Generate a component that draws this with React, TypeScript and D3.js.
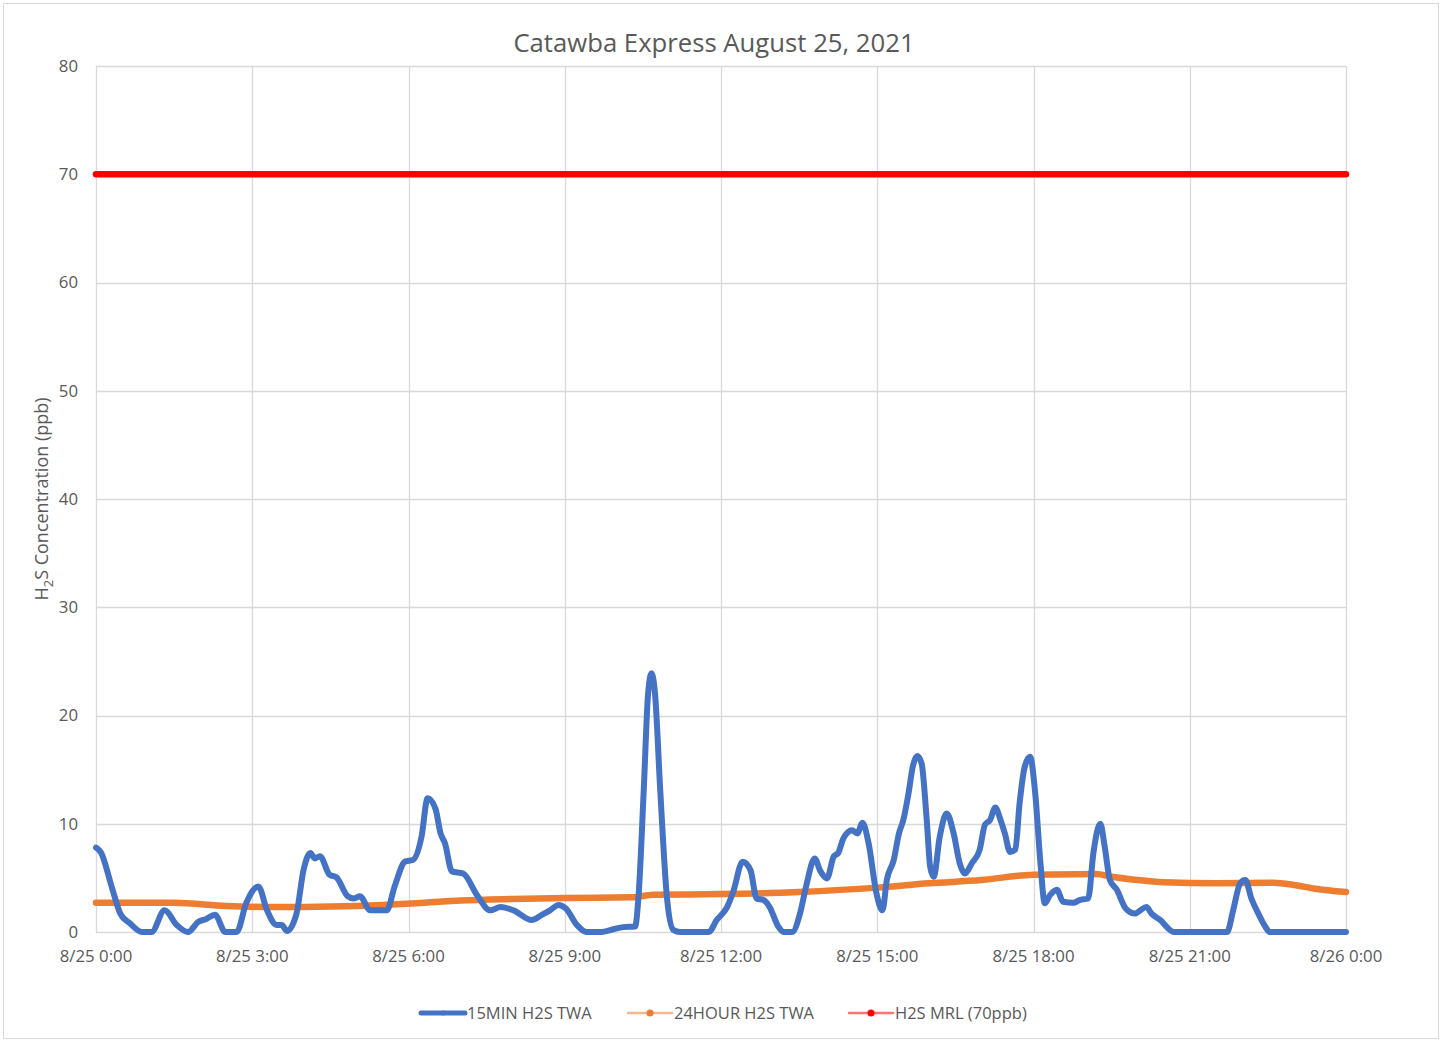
import { useEffect, useRef } from 'react';
import * as d3 from 'd3';

// 15-minute TWA (blue) - minutes after midnight, ppb
const twa15Minutes = [
  0, 6, 18, 28, 39, 53, 64, 79, 93, 106, 118, 127, 137, 149, 162, 173, 187, 197, 208, 214,
  220, 231, 239, 247, 252, 258, 269, 277, 290, 297, 304, 316, 335, 344, 356, 365, 375, 382,
  391, 397, 402, 410, 423, 439, 454, 466, 481, 502, 514, 523, 533, 541, 554, 565, 581, 596,
  607, 621, 625, 631, 636, 640, 644, 650, 658, 665, 673, 706, 715, 727, 734, 745, 754, 761,
  769, 776, 786, 792, 802, 811, 818, 828, 834, 842, 850, 855, 861, 871, 877, 883, 890, 899,
  906, 911, 919, 925, 930, 936, 941, 946, 951, 957, 961, 965, 972, 980, 988, 995, 1001, 1009,
  1018, 1024, 1030, 1036, 1042, 1047, 1053, 1059, 1064, 1070, 1076, 1082, 1088, 1093, 1099,
  1107, 1114, 1126, 1133, 1143, 1149, 1157, 1162, 1168, 1176, 1186, 1197, 1203, 1210, 1216,
  1226, 1237, 1241, 1303, 1310, 1318, 1324, 1331, 1339, 1347, 1352, 1440,
];
const twa15Values = [
  7.8, 7.3, 4.2, 1.7, 0.8, 0, 0, 2.0, 0.65, 0, 0.95, 1.2, 1.6, 0, 0, 2.65, 4.2, 2.0, 0.65, 0.65,
  0.1, 1.7, 5.7, 7.3, 6.8, 7.0, 5.3, 5.05, 3.3, 3.1, 3.3, 2.0, 2.0, 4.2, 6.5, 6.65, 8.8, 12.35,
  11.4, 9.1, 8.2, 5.6, 5.4, 3.4, 2.0, 2.3, 2.0, 1.1, 1.6, 2.0, 2.5, 2.2, 0.65, 0, 0, 0.25,
  0.45, 0.5, 3.3, 13.1, 22.0, 23.9, 22.0, 13.1, 2.95, 0.2, 0, 0, 1.1, 2.3, 3.7, 6.5, 5.7, 3.1,
  2.95, 2.3, 0.5, 0, 0, 1.7, 4.2, 6.8, 5.7, 4.95, 7.0, 7.3, 8.65, 9.4, 9.1, 10.1, 8.2, 3.6,
  2.0, 4.8, 6.65, 9.1, 10.35, 12.8, 15.3, 16.25, 15.6, 10.35, 6.0, 5.1, 8.8, 10.95, 9.1, 6.35, 5.4, 6.35,
  7.6, 9.9, 10.35, 11.5, 10.35, 9.1, 7.4, 7.6, 11.9, 15.3, 16.2, 12.8, 6.35, 2.65, 3.4,
  3.9, 2.8, 2.7, 2.95, 3.1, 7.3, 10.0, 7.9, 4.8, 3.9, 2.2, 1.7, 2.0, 2.3, 1.7,
  1.1, 0.2, 0, 0, 2.0, 4.5, 4.8, 3.1, 1.7, 0.5, 0, 0,
];

// 24-hour TWA (orange)
const twa24Minutes = [
  0, 90, 150, 210, 270, 330, 378, 420, 480, 540, 618, 642, 720, 810, 900, 960, 1020, 1080,
  1152, 1170, 1200, 1230, 1290, 1356, 1380, 1404, 1440,
];
const twa24Values = [
  2.7, 2.7, 2.4, 2.3, 2.35, 2.5, 2.7, 2.9, 3.05, 3.15, 3.2, 3.45, 3.5, 3.7, 4.1, 4.5, 4.8, 5.3,
  5.35, 5.1, 4.8, 4.6, 4.5, 4.55, 4.35, 4.0, 3.7,
];

// MRL (red)
const mrlMinutes = [0, 1440];
const mrlValues = [70, 70];

const yTicks = [0, 10, 20, 30, 40, 50, 60, 70, 80];
const xTickMinutes = [0, 180, 360, 540, 720, 900, 1080, 1260, 1440];

const seriesNames = ['15MIN H2S TWA', '24HOUR H2S TWA', 'H2S MRL (70ppb)'];
const seriesColors = ['#4472c4', '#ed7d31', '#ff0000'];

const FONT = "'Open Sans', 'Noto Sans', sans-serif";

export default function App() {
  const svgRef = useRef<SVGSVGElement>(null);

  useEffect(() => {
    document.body.style.margin = '0';
    const width = 1442;
    const height = 1042;
    const margin = { top: 66, right: 96, bottom: 110, left: 96 };
    const innerWidth = width - margin.left - margin.right;
    const innerHeight = height - margin.top - margin.bottom;

    const svg = d3.select(svgRef.current).attr('width', width).attr('height', height);
    svg.selectAll('*').remove();

    svg.append('rect')
      .attr('x', 3.5).attr('y', 3.5)
      .attr('width', width - 7).attr('height', height - 7)
      .attr('fill', '#fff').attr('stroke', '#d9d9d9');

    const start = new Date(2021, 7, 25, 0, 0);
    const toDate = (m: number) => new Date(start.getTime() + m * 60000);

    const x = d3.scaleTime()
      .domain([toDate(0), toDate(1440)])
      .range([0, innerWidth]);
    const y = d3.scaleLinear().domain([0, 80]).range([innerHeight, 0]);

    const g = svg.append('g').attr('transform', `translate(${margin.left},${margin.top})`);

    // Gridlines
    g.append('g')
      .selectAll('line')
      .data(yTicks)
      .enter()
      .append('line')
      .attr('x1', 0).attr('x2', innerWidth)
      .attr('y1', (d) => Math.round(y(d)) + 0.5).attr('y2', (d) => Math.round(y(d)) + 0.5)
      .attr('stroke', '#d9d9d9').attr('stroke-width', 1.3);

    g.append('g')
      .selectAll('line')
      .data(xTickMinutes)
      .enter()
      .append('line')
      .attr('x1', (d) => Math.round(x(toDate(d))) + 0.5).attr('x2', (d) => Math.round(x(toDate(d))) + 0.5)
      .attr('y1', 0).attr('y2', innerHeight)
      .attr('stroke', '#d9d9d9').attr('stroke-width', 1.3);

    // Y tick labels
    g.append('g')
      .selectAll('text')
      .data(yTicks)
      .enter()
      .append('text')
      .attr('x', -18)
      .attr('y', (d) => y(d))
      .attr('dy', '0.35em')
      .attr('text-anchor', 'end')
      .style('font-family', FONT)
      .style('font-size', '16.8px')
      .style('fill', '#595959')
      .text((d) => d);

    // X tick labels
    const fmt = (m: number) => {
      const d = toDate(m);
      return `${d.getMonth() + 1}/${d.getDate()} ${d.getHours()}:00`;
    };
    g.append('g')
      .selectAll('text')
      .data(xTickMinutes)
      .enter()
      .append('text')
      .attr('x', (d) => x(toDate(d)))
      .attr('y', innerHeight + 30)
      .attr('text-anchor', 'middle')
      .style('font-family', FONT)
      .style('font-size', '16.8px')
      .style('fill', '#595959')
      .text((d) => fmt(d));

    // Lines
    const line = d3.line<[number, number]>()
      .x((d) => x(toDate(d[0])))
      .y((d) => y(d[1]))
      .curve(d3.curveMonotoneX);

    const zip = (a: number[], b: number[]) => a.map((m, i) => [m, b[i]] as [number, number]);

    g.append('path')
      .datum(zip(twa24Minutes, twa24Values))
      .attr('d', line)
      .attr('fill', 'none')
      .attr('stroke', seriesColors[1])
      .attr('stroke-width', 6.5)
      .attr('stroke-linecap', 'round');

    g.append('path')
      .datum(zip(twa15Minutes, twa15Values))
      .attr('d', line)
      .attr('fill', 'none')
      .attr('stroke', seriesColors[0])
      .attr('stroke-width', 6)
      .attr('stroke-linejoin', 'round')
      .attr('stroke-linecap', 'round');

    g.append('path')
      .datum(zip(mrlMinutes, mrlValues))
      .attr('d', line)
      .attr('fill', 'none')
      .attr('stroke', seriesColors[2])
      .attr('stroke-width', 6.5)
      .attr('stroke-linecap', 'round');

    // Title
    svg.append('text')
      .attr('x', margin.left + innerWidth / 2 - 7)
      .attr('y', 52)
      .attr('text-anchor', 'middle')
      .style('font-family', FONT)
      .style('font-size', '25.7px')
      .style('fill', '#595959')
      .text('Catawba Express August 25, 2021');

    // Y axis title
    const yt = svg.append('text')
      .attr('transform', `translate(48,${margin.top + innerHeight / 2}) rotate(-90)`)
      .attr('text-anchor', 'middle')
      .style('font-family', FONT)
      .style('font-size', '18px')
      .style('fill', '#595959');
    yt.append('tspan').text('H');
    yt.append('tspan').attr('dy', 5).style('font-size', '13px').text('2');
    yt.append('tspan').attr('dy', -5).text('S Concentration (ppb)');

    // Legend
    const legendX = [421, 628, 849];
    const legend = svg.append('g').attr('transform', 'translate(0,1013)');
    seriesNames.forEach((name, i) => {
      const lx = legendX[i];
      legend.append('line')
        .attr('x1', lx).attr('x2', lx + 44)
        .attr('y1', 0).attr('y2', 0)
        .attr('stroke', seriesColors[i])
        .attr('stroke-width', i === 0 ? 5 : 2.5)
        .attr('stroke-opacity', i === 0 ? 1 : 0.55)
        .attr('stroke-linecap', 'round');
      legend.append('circle')
        .attr('cx', lx + 22).attr('cy', 0)
        .attr('r', i === 0 ? 2.5 : 3.5)
        .attr('fill', seriesColors[i]);
      legend.append('text')
        .attr('x', lx + 46)
        .attr('y', 0)
        .attr('dy', '0.35em')
        .style('font-family', FONT)
        .style('font-size', '16.5px')
        .style('fill', '#595959')
        .text(name);
    });
  }, []);

  return (
    <div style={{ position: 'absolute', left: 0, top: 0 }}>
      <svg ref={svgRef}></svg>
    </div>
  );
}
